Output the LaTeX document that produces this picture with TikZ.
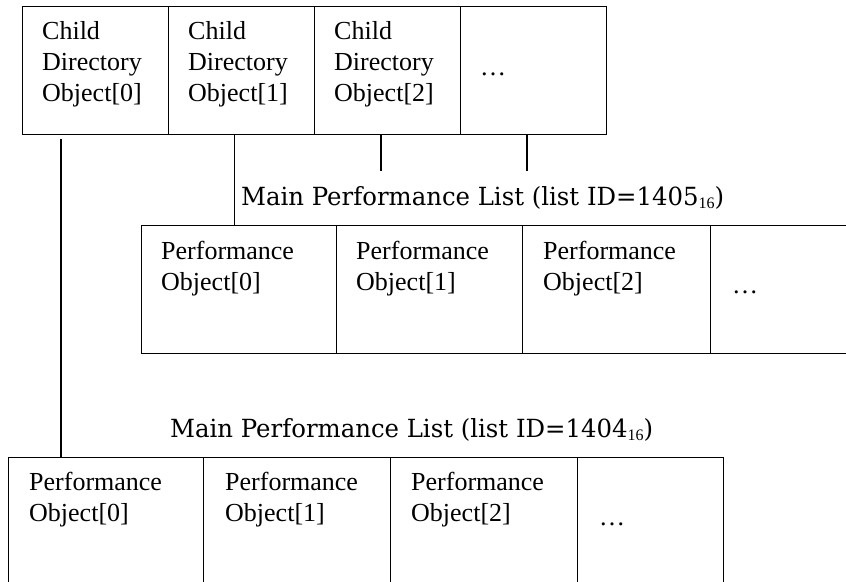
\documentclass[tikz,border=0pt]{standalone}
\usepackage{fontspec}
\setmainfont{Liberation Serif}
\newfontfamily\titlefont[FakeStretch=0.975]{DejaVu Serif}
\usetikzlibrary{calc}
\tikzset{
  cell/.style={draw=black, rectangle, inner sep=0pt, anchor=north west, line width=1.3pt},
  celltext/.style={anchor=north west, inner sep=0pt, align=left, font=\fontsize{26}{31}\selectfont},
  dotstext/.style={anchor=base west, inner sep=0pt, font=\fontsize{26}{31}\selectfont},
  listtitle/.style={anchor=base west, inner sep=0pt, font=\titlefont\fontsize{25}{30}\selectfont},
  link/.style={draw=black, line width=1.3pt}
}
\newcommand{\subsix}{\raisebox{-3pt}{\rmfamily\fontsize{16}{16}\selectfont 16}}
\begin{document}
\begin{tikzpicture}[x=1pt,y=-1pt]
\useasboundingbox (0,0) rectangle (846,581);
\clip (0,0) rectangle (846,581);
% top row: child directory objects
\node[cell, minimum width=146pt, minimum height=128pt] (c0) at (22,6) {};
\node[cell, minimum width=146pt, minimum height=128pt] (c1) at (168,6) {};
\node[cell, minimum width=146pt, minimum height=128pt] (c2) at (314,6) {};
\node[cell, minimum width=146pt, minimum height=128pt] (c3) at (460,6) {};
\node[celltext] (tc0) at ($(c0.north west)+(20,11.8)$) {\strut Child\\Directory\\Object[0]};
\node[celltext] (tc1) at ($(c1.north west)+(20,11.8)$) {\strut Child\\Directory\\Object[1]};
\node[celltext] (tc2) at ($(c2.north west)+(20,11.8)$) {\strut Child\\Directory\\Object[2]};
\node[dotstext] (tc3) at ($(c3.north west)+(20,69)$) {…};
% middle list
\node[listtitle] (mt) at (241,205) {Main Performance List (list ID=1405\subsix)};
\node[cell, minimum width=195pt, minimum height=128pt] (m0) at (141,225) {};
\node[cell, minimum width=186pt, minimum height=128pt] (m1) at (336,225) {};
\node[cell, minimum width=188pt, minimum height=128pt] (m2) at (522,225) {};
\node[cell, minimum width=170pt, minimum height=128pt] (m3) at (710,225) {};
\node[celltext] (tm0) at ($(m0.north west)+(20,12.8)$) {\strut Performance\\Object[0]};
\node[celltext] (tm1) at ($(m1.north west)+(20,12.8)$) {\strut Performance\\Object[1]};
\node[celltext] (tm2) at ($(m2.north west)+(21,12.8)$) {\strut Performance\\Object[2]};
\node[dotstext] (tm3) at ($(m3.north west)+(22,68)$) {…};
% bottom list
\node[listtitle] (bt) at (170,437) {Main Performance List (list ID=1404\subsix)};
\node[cell, minimum width=195pt, minimum height=132pt] (b0) at (8,457) {};
\node[cell, minimum width=187pt, minimum height=132pt] (b1) at (203,457) {};
\node[cell, minimum width=187pt, minimum height=132pt] (b2) at (390,457) {};
\node[cell, minimum width=146pt, minimum height=132pt] (b3) at (577,457) {};
\node[celltext] (tb0) at ($(b0.north west)+(21,11.3)$) {\strut Performance\\Object[0]};
\node[celltext] (tb1) at ($(b1.north west)+(22,11.3)$) {\strut Performance\\Object[1]};
\node[celltext] (tb2) at ($(b2.north west)+(21,11.3)$) {\strut Performance\\Object[2]};
\node[dotstext] (tb3) at ($(b3.north west)+(22,68)$) {…};
% connectors
\coordinate (p0) at ($(c0.south west)+(39,3.5)$);
\draw[link] (p0) -- (p0 |- b0.north);
\coordinate (p1) at ($(c1.south west)+(66.5,0)$);
\draw[link] (p1) -- (p1 |- m0.north);
\coordinate (p2) at ($(c2.south west)+(67,0)$);
\coordinate (e2) at ($(p2)+(0,36)$);
\draw[link] (p2) -- (e2);
\coordinate (p3) at ($(c3.south west)+(67,0)$);
\coordinate (e3) at ($(p3)+(0,36)$);
\draw[link] (p3) -- (e3);
\end{tikzpicture}
\end{document}
